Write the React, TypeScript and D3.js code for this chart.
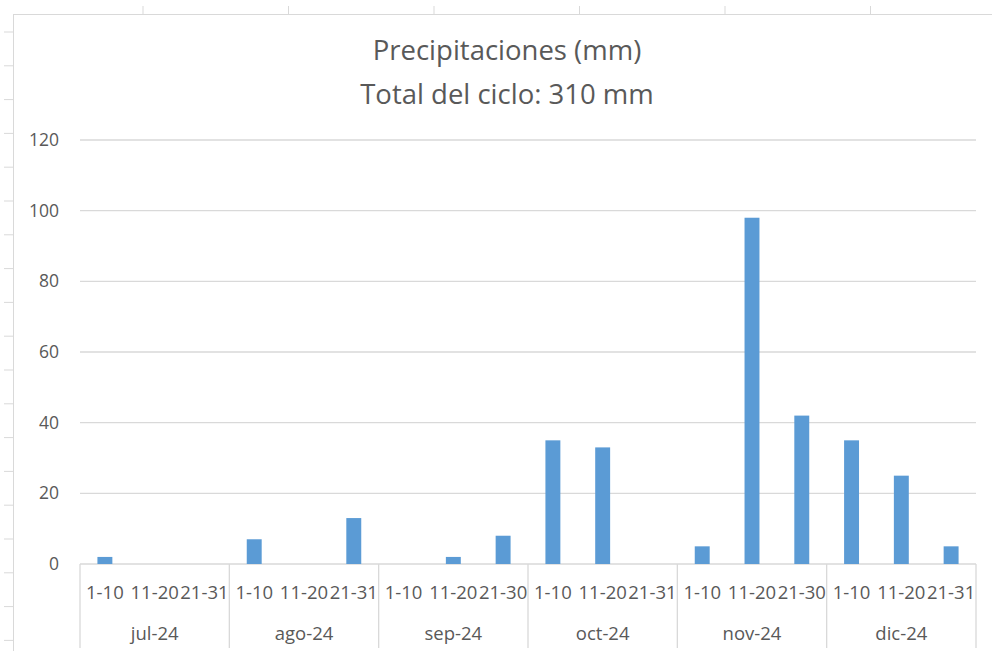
import * as d3 from 'd3';
import React from 'react';

const months = ['jul-24', 'ago-24', 'sep-24', 'oct-24', 'nov-24', 'dic-24'];
const periods = [
  ['1-10', '11-20', '21-31'],
  ['1-10', '11-20', '21-31'],
  ['1-10', '11-20', '21-30'],
  ['1-10', '11-20', '21-31'],
  ['1-10', '11-20', '21-30'],
  ['1-10', '11-20', '21-31'],
];
const rainfall = [
  [2, 0, 0],
  [7, 0, 13],
  [0, 2, 8],
  [35, 33, 0],
  [5, 98, 42],
  [35, 25, 5],
];
const yTicks = [0, 20, 40, 60, 80, 100, 120];
const titleLines = ['Precipitaciones (mm)', 'Total del ciclo: 310 mm'];

const W = 992;
const H = 651;
const font = "'Open Sans', 'Noto Sans', sans-serif";
const textColor = '#595959';
const gridColor = '#d9d9d9';

const App = () => {
  const left = 80;
  const right = 976;
  const baseY = 564;
  const topY = 140;

  const x = d3.scaleBand().domain(months).range([left, right]).padding(0);
  const inner = d3.scaleBand().domain(['0', '1', '2']).range([0, x.bandwidth()]).padding(0);
  const y = d3.scaleLinear().domain([0, 120]).range([baseY, topY]);
  const barW = inner.bandwidth() * 0.3;

  // spreadsheet cell lines behind the chart
  const colTicks = d3.range(143, W, 145.5);
  const rowTicks = d3.range(32, H, 33.8);

  return (
    <svg width={W} height={H} style={{ position: 'fixed', left: 0, top: 0, background: '#fff' }}>
      {colTicks.map((cx, i) => (
        <line key={'c' + i} x1={cx} x2={cx} y1={6} y2={14} stroke={gridColor} />
      ))}
      {rowTicks.map((ry, i) => (
        <line key={'r' + i} x1={4} x2={13} y1={ry} y2={ry} stroke={gridColor} />
      ))}
      <line x1={13} x2={W} y1={14.5} y2={14.5} stroke={gridColor} />
      <line x1={13.5} x2={13.5} y1={14} y2={H} stroke={gridColor} />

      {titleLines.map((t, i) => (
        <text key={t} x={507} y={60 + i * 44} textAnchor="middle" fontFamily={font} fontSize={27.5} fill={textColor}>
          {t}
        </text>
      ))}

      {yTicks.map((v) => (
        <g key={v}>
          <line x1={left} x2={right} y1={y(v)} y2={y(v)} stroke={gridColor} strokeWidth={1.3} />
          <text x={59} y={y(v)} dy="0.35em" textAnchor="end" fontFamily={font} fontSize={17.5} fill={textColor}>
            {v}
          </text>
        </g>
      ))}

      {months.map((m, mi) => (
        <g key={m}>
          {rainfall[mi].map((v, pi) => {
            const cx = x(m)! + inner(String(pi))! + inner.bandwidth() / 2;
            return v > 0 ? <rect key={pi} x={cx - barW / 2} y={y(v)} width={barW} height={baseY - y(v)} fill="#5b9bd5" /> : null;
          })}
          {periods[mi].map((p, pi) => (
            <text
              key={pi}
              x={x(m)! + inner(String(pi))! + inner.bandwidth() / 2}
              y={599}
              textAnchor="middle"
              fontFamily={font}
              fontSize={18.5}
              fill={textColor}
            >
              {p}
            </text>
          ))}
          <text x={x(m)! + x.bandwidth() / 2} y={640} textAnchor="middle" fontFamily={font} fontSize={18.5} fill={textColor}>
            {m}
          </text>
        </g>
      ))}
      {[...months.map((m) => x(m)!), right].map((bx, i) => (
        <line key={'s' + i} x1={bx} x2={bx} y1={baseY} y2={648} stroke={gridColor} strokeWidth={1.3} />
      ))}
    </svg>
  );
};

export default App;
